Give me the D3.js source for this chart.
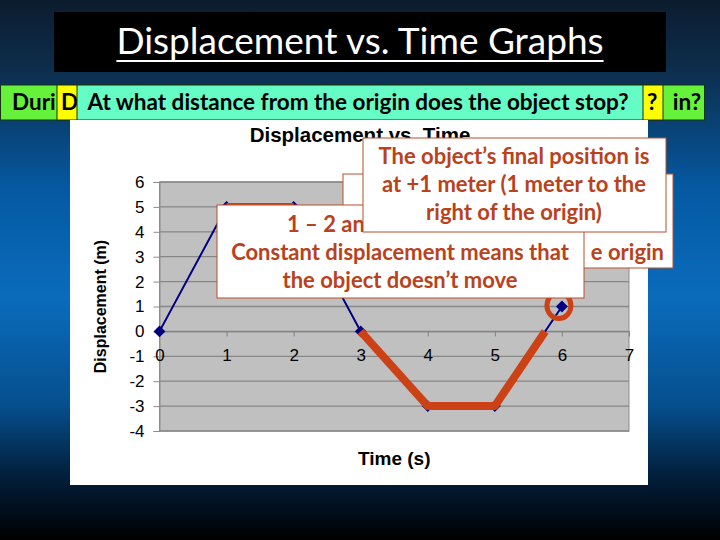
<!DOCTYPE html>
<html>
<head>
<meta charset="utf-8">
<script src="https://cdn.jsdelivr.net/npm/d3@7"></script>
<style>
  body { margin: 0; background: #000; }
  svg { display: block; }
</style>
</head>
<body>
<svg id="slide" width="720" height="540"></svg>
<script>
// chart data
let times = [0, 1, 2, 3, 4, 5, 6];
let displacement = [0, 5, 5, 0, -3, -3, 1];
let xTicks = [0, 1, 2, 3, 4, 5, 6, 7];
let yTicks = [-4, -3, -2, -1, 0, 1, 2, 3, 4, 5, 6];
// highlighted pieces (time, displacement)
let stillSegment = [[1, 5], [2, 5]];
let highlightPath = [[3, 0], [4, -3], [5, -3], [5.75, 0]];
let finalPoint = [6, 1];

let slideTitle = 'Displacement vs. Time Graphs';
let chartTitle = 'Displacement vs. Time';
let questions = ['Duri', 'in?', 'D', '?', 'At what distance from the origin does the object stop?'];
let boxA = ['e origin'];
let boxB = ['1 – 2 and', 'Constant displacement means that', 'the object doesn’t move'];
let boxC = ['The object’s final position is', 'at +1 meter (1 meter to the', 'right of the origin)'];

let svg = d3.select('#slide');
let calibri = 'Lato, "Open Sans", sans-serif';
let arial = '"Liberation Sans", Arial, sans-serif';
let rust = '#cc4216';
let rustText = '#b9421c';

// background
let grad = svg.append('defs').append('linearGradient')
    .attr('id', 'bg').attr('x1', 0).attr('y1', 0).attr('x2', 0).attr('y2', 1);
[[0, '#0c1c2e'], [0.12, '#0d2c4a'], [0.35, '#0559a2'], [0.55, '#0a6cbc'], [0.75, '#064f8e'], [0.88, '#021f3c'], [1, '#000000']]
    .forEach(s => grad.append('stop').attr('offset', s[0]).attr('stop-color', s[1]));
svg.append('rect').attr('width', 720).attr('height', 540).attr('fill', 'url(#bg)');

// title box
svg.append('rect').attr('x', 54).attr('y', 12).attr('width', 612).attr('height', 60).attr('fill', '#000');
let t = svg.append('text').attr('x', 360).attr('y', 54)
    .attr('text-anchor', 'middle').attr('fill', '#fff')
    .style('font-family', calibri).style('font-size', '37px')
    .text(slideTitle);
let tw = t.node().getComputedTextLength();
svg.append('line').attr('x1', 360 - tw / 2).attr('x2', 360 + tw / 2)
    .attr('y1', 61).attr('y2', 61).attr('stroke', '#fff').attr('stroke-width', 2);

// stacked question boxes
function qbox(x, w, fill) {
    svg.append('rect').attr('x', x).attr('y', 85).attr('width', w).attr('height', 35)
        .attr('fill', fill).attr('stroke', '#143214').attr('stroke-width', 1);
}
function qtext(x, anchor, s) {
    svg.append('text').attr('x', x).attr('y', 110).attr('text-anchor', anchor)
        .attr('fill', '#000').style('font-family', calibri).style('font-size', '22.5px')
        .style('font-weight', 'bold')
        .text(s);
}
qbox(0.5, 704, '#66f23a');
qtext(12, 'start', questions[0]);
qtext(701, 'end', questions[1]);
qbox(57, 606, '#ffff00');
qtext(61, 'start', questions[2]);
qtext(647, 'start', questions[3]);
qbox(77, 566, '#66fcc6');
qtext(358, 'middle', questions[4]);

// chart panel
svg.append('rect').attr('x', 70).attr('y', 120).attr('width', 578).attr('height', 365).attr('fill', '#fff');
svg.append('text').attr('x', 360).attr('y', 142).attr('text-anchor', 'middle')
    .style('font-family', arial).style('font-size', '20.5px').style('font-weight', 'bold')
    .text(chartTitle);

let xScale = d3.scaleLinear().domain([0, 7]).range([159.5, 629]);
let yScale = d3.scaleLinear().domain([-4, 6]).range([431, 182]);

svg.append('rect')
    .attr('x', xScale(0)).attr('y', yScale(6))
    .attr('width', xScale(7) - xScale(0)).attr('height', yScale(-4) - yScale(6))
    .attr('fill', '#c0c0c0').attr('stroke', '#8c8c8c');

svg.append('g').selectAll('line').data(yTicks).join('line')
    .attr('x1', xScale(0)).attr('x2', xScale(7))
    .attr('y1', d => yScale(d)).attr('y2', d => yScale(d))
    .attr('stroke', '#878787').attr('stroke-width', 1.3);

let yAxis = svg.append('g').attr('transform', `translate(${xScale(0)},0)`)
    .call(d3.axisLeft(yScale).tickValues(yTicks).tickSize(6).tickPadding(9).tickFormat(d => String(d)));
yAxis.select('.domain').attr('stroke', '#8c8c8c');
yAxis.selectAll('.tick line').attr('stroke', '#8c8c8c');
yAxis.selectAll('text').style('font-family', arial).style('font-size', '17px').attr('fill', '#000');

let xAxis = svg.append('g').attr('transform', `translate(0,${yScale(0)})`)
    .call(d3.axisBottom(xScale).tickValues(xTicks).tickSize(5).tickPadding(13).tickFormat(d => String(d)));
xAxis.select('.domain').attr('stroke', '#808080');
xAxis.selectAll('.tick line').attr('stroke', '#808080');
xAxis.selectAll('text').style('font-family', arial).style('font-size', '17px').attr('fill', '#000');

svg.append('text')
    .attr('transform', `translate(106,${(yScale(6) + yScale(-4)) / 2}) rotate(-90)`)
    .attr('text-anchor', 'middle')
    .style('font-family', arial).style('font-size', '16px').style('font-weight', 'bold')
    .text('Displacement (m)');
svg.append('text').attr('x', (xScale(0) + xScale(7)) / 2).attr('y', 465).attr('text-anchor', 'middle')
    .style('font-family', arial).style('font-size', '19px').style('font-weight', 'bold')
    .text('Time (s)');

// data series
let points = times.map((d, i) => [d, displacement[i]]);
let line = d3.line().x(d => xScale(d[0])).y(d => yScale(d[1]));
svg.append('path').datum(points).attr('d', line)
    .attr('fill', 'none').attr('stroke', '#000080').attr('stroke-width', 2);
svg.append('g').selectAll('path').data(points).join('path')
    .attr('transform', d => `translate(${xScale(d[0])},${yScale(d[1])})`)
    .attr('d', d3.symbol(d3.symbolDiamond2, 90))
    .attr('fill', '#000080');

// highlights
svg.append('path').datum(highlightPath).attr('d', line)
    .attr('fill', 'none').attr('stroke', rust).attr('stroke-width', 8).attr('stroke-linejoin', 'round');
svg.append('path').datum(stillSegment).attr('d', line)
    .attr('fill', 'none').attr('stroke', rust).attr('stroke-width', 8);
svg.append('ellipse').attr('cx', xScale(finalPoint[0]) - 3).attr('cy', yScale(finalPoint[1]) - 1)
    .attr('rx', 12).attr('ry', 13)
    .attr('fill', 'none').attr('stroke', rust).attr('stroke-width', 5);

// annotation boxes
function note(x, y, w, h, lines, firstBase, cx, anchor) {
    svg.append('rect').attr('x', x).attr('y', y).attr('width', w).attr('height', h)
        .attr('fill', '#fff').attr('stroke', '#b8502a').attr('stroke-width', 1);
    svg.append('g').selectAll('text').data(lines).join('text')
        .attr('x', cx).attr('y', (d, i) => firstBase + i * 28)
        .attr('text-anchor', anchor)
        .attr('fill', rustText)
        .style('font-family', calibri).style('font-size', '22px').style('font-weight', 'bold')
        .text(d => d);
}
note(343, 174, 330, 94, boxA, 260, 664, 'end');
note(217, 205, 367, 93, [], 0, 0, 'middle');
svg.append('g').selectAll('text').data(boxB).join('text')
    .attr('x', (d, i) => i === 0 ? 287 : 400).attr('y', (d, i) => 232 + i * 28)
    .attr('text-anchor', (d, i) => i === 0 ? 'start' : 'middle')
    .attr('fill', rustText)
    .style('font-family', calibri).style('font-size', '22px').style('font-weight', 'bold')
    .text(d => d);
note(363, 138, 303, 94, boxC, 164, 514, 'middle');
</script>
</body>
</html>
